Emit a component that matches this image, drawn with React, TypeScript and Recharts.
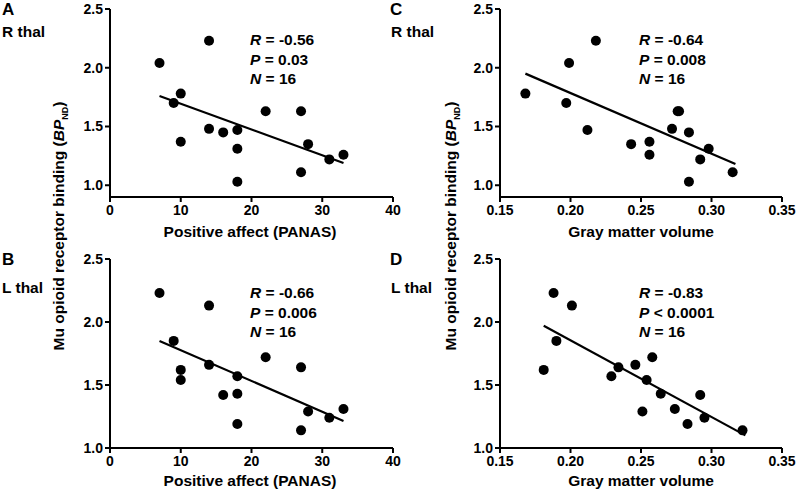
import React from 'react';
import { ScatterChart, Scatter, XAxis, YAxis, ReferenceLine } from 'recharts';

const FONT = '"Liberation Sans", Arial, Helvetica, sans-serif';

// Panel A: Positive affect (PANAS) vs R thal BPnd
const panasA = [7, 14, 10, 9, 10, 14, 16, 18, 18, 18, 22, 27, 27, 28, 31, 33];
const bpRthalA = [2.04, 2.23, 1.78, 1.7, 1.37, 1.48, 1.45, 1.47, 1.31, 1.03, 1.63, 1.63, 1.11, 1.35, 1.22, 1.26];
// Panel B: Positive affect (PANAS) vs L thal BPnd
const panasB = [7, 14, 9, 10, 10, 14, 16, 18, 18, 18, 22, 27, 27, 28, 31, 33];
const bpLthalB = [2.23, 2.13, 1.85, 1.62, 1.54, 1.66, 1.42, 1.57, 1.43, 1.19, 1.72, 1.64, 1.14, 1.29, 1.24, 1.31];
// Panel C: Gray matter volume vs R thal BPnd
const gmvC = [0.168, 0.199, 0.218, 0.197, 0.212, 0.243, 0.256, 0.256, 0.272, 0.277, 0.276, 0.284, 0.284, 0.292, 0.298, 0.315];
const bpRthalC = [1.78, 2.04, 2.23, 1.7, 1.47, 1.35, 1.37, 1.26, 1.48, 1.63, 1.63, 1.45, 1.03, 1.22, 1.31, 1.11];
// Panel D: Gray matter volume vs L thal BPnd
const gmvD = [0.188, 0.201, 0.19, 0.181, 0.229, 0.234, 0.246, 0.258, 0.254, 0.264, 0.251, 0.274, 0.283, 0.292, 0.295, 0.322];
const bpLthalD = [2.23, 2.13, 1.85, 1.62, 1.57, 1.64, 1.66, 1.72, 1.54, 1.43, 1.29, 1.31, 1.19, 1.42, 1.24, 1.14];

// Regression line endpoints
const fitA = [{ x: 7, y: 1.76 }, { x: 33, y: 1.19 }];
const fitB = [{ x: 7, y: 1.85 }, { x: 33, y: 1.215 }];
const fitC = [{ x: 0.168, y: 1.95 }, { x: 0.317, y: 1.18 }];
const fitD = [{ x: 0.181, y: 1.97 }, { x: 0.324, y: 1.1 }];

const panasTicks = [0, 10, 20, 30, 40];
const gmvTicks = [0.15, 0.2, 0.25, 0.3, 0.35];
const bpTicks = [1.0, 1.5, 2.0, 2.5];

const statsA = ['R', '-0.56', 'P', '= 0.03', 'N', '16'];
const statsB = ['R', '-0.66', 'P', '= 0.006', 'N', '16'];
const statsC = ['R', '-0.64', 'P', '= 0.008', 'N', '16'];
const statsD = ['R', '-0.83', 'P', '< 0.0001', 'N', '16'];

const axisStyle = { stroke: '#000', strokeWidth: 2 };
const tickStyle = { fill: '#000', fontSize: 14, fontWeight: 'bold', fontFamily: FONT };

const Dot = (p: any) => <circle cx={p.cx} cy={p.cy} r={5} fill="#000" />;

function Panel(props: any) {
  const { left, top, width, height, margin, yAxisWidth, xAxisHeight, xs, ys, xDomain, xTicks, xFmt, yDomain, fit } = props;
  const data = xs.map((x: number, i: number) => ({ x, y: ys[i] }));
  return (
    <div style={{ position: 'absolute', left, top, width, height }}>
      <ScatterChart width={width} height={height} margin={margin}>
        <XAxis
          type="number"
          dataKey="x"
          domain={xDomain}
          ticks={xTicks}
          interval={0}
          tickFormatter={xFmt}
          height={xAxisHeight}
          axisLine={axisStyle}
          tickLine={axisStyle}
          tickSize={5}
          tickMargin={3}
          tick={tickStyle}
          allowDataOverflow
        />
        <YAxis
          type="number"
          dataKey="y"
          domain={yDomain}
          ticks={bpTicks}
          interval={0}
          tickFormatter={(v: number) => v.toFixed(1)}
          width={yAxisWidth}
          axisLine={axisStyle}
          tickLine={axisStyle}
          tickSize={5}
          tick={tickStyle}
          allowDataOverflow
        />
        <ReferenceLine segment={fit} stroke="#000" strokeWidth={2.2} ifOverflow="visible" />
        <Scatter data={data} shape={Dot} isAnimationActive={false} />
      </ScatterChart>
    </div>
  );
}

function Stats({ x, y, s }: { x: number; y: number; s: string[] }) {
  const st = { fontSize: 15.5, fontWeight: 'bold' as const, fontFamily: FONT, fill: '#000' };
  return (
    <g>
      <text x={x} y={y} {...st}>
        <tspan fontStyle="italic">{s[0]}</tspan> = {s[1]}
      </text>
      <text x={x} y={y + 19.5} {...st}>
        <tspan fontStyle="italic">{s[2]}</tspan> {s[3]}
      </text>
      <text x={x} y={y + 39} {...st}>
        <tspan fontStyle="italic">{s[4]}</tspan> = {s[5]}
      </text>
    </g>
  );
}

function YLabel({ x, y }: { x: number; y: number }) {
  return (
    <text
      transform={`translate(${x},${y}) rotate(-90)`}
      textAnchor="middle"
      fontSize={15.5}
      fontWeight="bold"
      fontFamily={FONT}
      fill="#000"
    >
      Mu opioid receptor binding (<tspan fontStyle="italic">BP</tspan>
      <tspan fontSize={9} dy={4}>ND</tspan>
      <tspan dy={-4}>)</tspan>
    </text>
  );
}

export default function App() {
  const lbl = { fontSize: 15.5, fontWeight: 'bold' as const, fontFamily: FONT, fill: '#000' };
  const big = { fontSize: 17, fontWeight: 'bold' as const, fontFamily: FONT, fill: '#000' };
  const fmt2 = (v: number) => v.toFixed(2);
  return (
    <div style={{ position: 'absolute', left: 0, top: 0, width: 800, height: 498, background: '#fff', overflow: 'hidden' }}>
      <style>{`.recharts-surface{overflow:visible}`}</style>
      <Panel left={0} top={0} width={400} height={249} margin={{ top: 9, right: 7, bottom: 0, left: 0 }}
        yAxisWidth={110} xAxisHeight={52} xs={panasA} ys={bpRthalA} xDomain={[0, 40]} xTicks={panasTicks}
        xFmt={(v: number) => String(v)} yDomain={[0.9, 2.5]} fit={fitA} />
      <Panel left={0} top={249} width={400} height={249} margin={{ top: 10, right: 7, bottom: 0, left: 0 }}
        yAxisWidth={110} xAxisHeight={50} xs={panasB} ys={bpLthalB} xDomain={[0, 40]} xTicks={panasTicks}
        xFmt={(v: number) => String(v)} yDomain={[1.0, 2.5]} fit={fitB} />
      <Panel left={400} top={0} width={400} height={249} margin={{ top: 9, right: 18, bottom: 0, left: 0 }}
        yAxisWidth={100} xAxisHeight={52} xs={gmvC} ys={bpRthalC} xDomain={[0.15, 0.35]} xTicks={gmvTicks}
        xFmt={fmt2} yDomain={[0.9, 2.5]} fit={fitC} />
      <Panel left={400} top={249} width={400} height={249} margin={{ top: 10, right: 18, bottom: 0, left: 0 }}
        yAxisWidth={100} xAxisHeight={50} xs={gmvD} ys={bpLthalD} xDomain={[0.15, 0.35]} xTicks={gmvTicks}
        xFmt={fmt2} yDomain={[1.0, 2.5]} fit={fitD} />
      <svg width={800} height={498} style={{ position: 'absolute', left: 0, top: 0, pointerEvents: 'none' }}>
        <text x={2} y={15} {...big}>A</text>
        <text x={2} y={37} {...lbl}>R thal</text>
        <text x={2} y={265} {...big}>B</text>
        <text x={2} y={293} {...lbl}>L thal</text>
        <text x={390} y={15} {...big}>C</text>
        <text x={391} y={37} {...lbl}>R thal</text>
        <text x={390} y={265} {...big}>D</text>
        <text x={391} y={293} {...lbl}>L thal</text>

        <YLabel x={64} y={226} />
        <YLabel x={456} y={226} />

        <text x={250} y={237} textAnchor="middle" {...lbl}>Positive affect (PANAS)</text>
        <text x={250} y={486} textAnchor="middle" {...lbl}>Positive affect (PANAS)</text>
        <text x={641} y={237} textAnchor="middle" {...lbl}>Gray matter volume</text>
        <text x={641} y={486} textAnchor="middle" {...lbl}>Gray matter volume</text>

        <Stats x={250} y={45} s={statsA} />
        <Stats x={250} y={298} s={statsB} />
        <Stats x={639} y={45} s={statsC} />
        <Stats x={639} y={298} s={statsD} />
      </svg>
    </div>
  );
}
